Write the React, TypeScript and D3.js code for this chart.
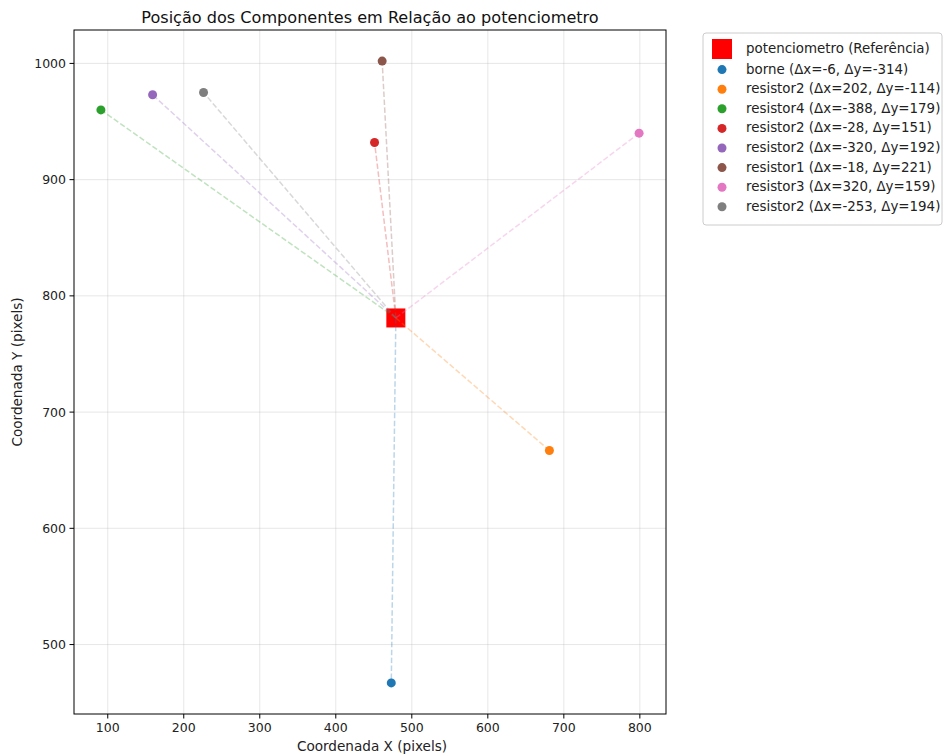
import React from "react";
import * as d3 from "d3";

const refName = "potenciometro (Referência)";
const refX = 479;
const refY = 781;
const names = ["borne", "resistor2", "resistor4", "resistor2", "resistor2", "resistor1", "resistor3", "resistor2"];
const dxs = [-6, 202, -388, -28, -320, -18, 320, -253];
const dys = [-314, -114, 179, 151, 192, 221, 159, 194];
const colors = ["#1f77b4", "#ff7f0e", "#2ca02c", "#d62728", "#9467bd", "#8c564b", "#e377c2", "#7f7f7f"];
const xTicks = [100, 200, 300, 400, 500, 600, 700, 800];
const yTicks = [500, 600, 700, 800, 900, 1000];

const W = 944, H = 756;
const L = 74, R = 666, T = 30, B = 714;
const font = "DejaVu Sans, sans-serif";

export default function App() {
  const xs = dxs.map((d) => refX + d);
  const ys = dys.map((d) => refY + d);
  const allX = [...xs, refX], allY = [...ys, refY];
  const [x0, x1] = d3.extent(allX) as [number, number];
  const [y0, y1] = d3.extent(allY) as [number, number];
  const mx = (x1 - x0) * 0.05, my = (y1 - y0) * 0.05;
  const x = d3.scaleLinear().domain([x0 - mx, x1 + mx]).range([L, R]);
  const y = d3.scaleLinear().domain([y0 - my, y1 + my]).range([B, T]);
  const rowH = 19.6;
  const legX = 703, legY = 33;
  return (
    <svg width={W} height={H} style={{ position: "absolute", left: 0, top: 0 }} fontFamily={font}>
      <rect width={W} height={H} fill="#fff" />
      {/* grid */}
      {xTicks.map((t) => (
        <line key={"gx" + t} x1={x(t)} x2={x(t)} y1={T} y2={B} stroke="#b0b0b0" strokeOpacity={0.3} strokeWidth={1} />
      ))}
      {yTicks.map((t) => (
        <line key={"gy" + t} x1={L} x2={R} y1={y(t)} y2={y(t)} stroke="#b0b0b0" strokeOpacity={0.3} strokeWidth={1} />
      ))}
      {/* reference square */}
      <rect x={x(refX) - 9.5} y={y(refY) - 9.5} width={19} height={19} fill="red" />
      {/* dashed lines */}
      {xs.map((vx, i) => (
        <line key={"l" + i} x1={x(refX)} y1={y(refY)} x2={x(vx)} y2={y(ys[i])} stroke={colors[i]} strokeOpacity={0.3} strokeWidth={1.5} strokeDasharray="5.5,2.4" />
      ))}
      {xs.map((vx, i) => (
        <circle key={"p" + i} cx={x(vx)} cy={y(ys[i])} r={4.5} fill={colors[i]} />
      ))}
      {/* frame */}
      <rect x={L} y={T} width={R - L} height={B - T} fill="none" stroke="#000" strokeWidth={1} />
      {/* x ticks */}
      {xTicks.map((t) => (
        <g key={"xt" + t}>
          <line x1={x(t)} x2={x(t)} y1={B} y2={B + 4.5} stroke="#000" />
          <text x={x(t)} y={B + 18} fontSize={12.5} textAnchor="middle" fill="#222">{t}</text>
        </g>
      ))}
      {yTicks.map((t) => (
        <g key={"yt" + t}>
          <line x1={L - 4.5} x2={L} y1={y(t)} y2={y(t)} stroke="#000" />
          <text x={L - 8} y={y(t) + 4.5} fontSize={12.5} textAnchor="end" fill="#222">{t}</text>
        </g>
      ))}
      <text x={372} y={751} fontSize={13.6} textAnchor="middle" fill="#222">Coordenada X (pixels)</text>
      <text transform={`translate(22,${(T + B) / 2}) rotate(-90)`} fontSize={13.6} textAnchor="middle" fill="#222">Coordenada Y (pixels)</text>
      <text x={370} y={23} fontSize={16.1} textAnchor="middle" fill="#111">Posição dos Componentes em Relação ao potenciometro</text>
      {/* legend */}
      <rect x={legX} y={legY} width={239} height={192} rx={3} fill="#fff" stroke="#ccc" strokeWidth={1} />
      <rect x={legX + 9} y={legY + 6} width={20} height={20} fill="red" />
      <text x={legX + 43} y={legY + 20} fontSize={13.4} fill="#222">{refName}</text>
      {names.map((n, i) => {
        const cy = legY + 16 + (i + 1) * rowH;
        return (
          <g key={"lg" + i}>
            <circle cx={legX + 19} cy={cy + 1} r={4.5} fill={colors[i]} />
            <text x={legX + 43} y={cy + 5} fontSize={13.4} fill="#222">{`${n} (Δx=${dxs[i]}, Δy=${dys[i]})`}</text>
          </g>
        );
      })}
    </svg>
  );
}
